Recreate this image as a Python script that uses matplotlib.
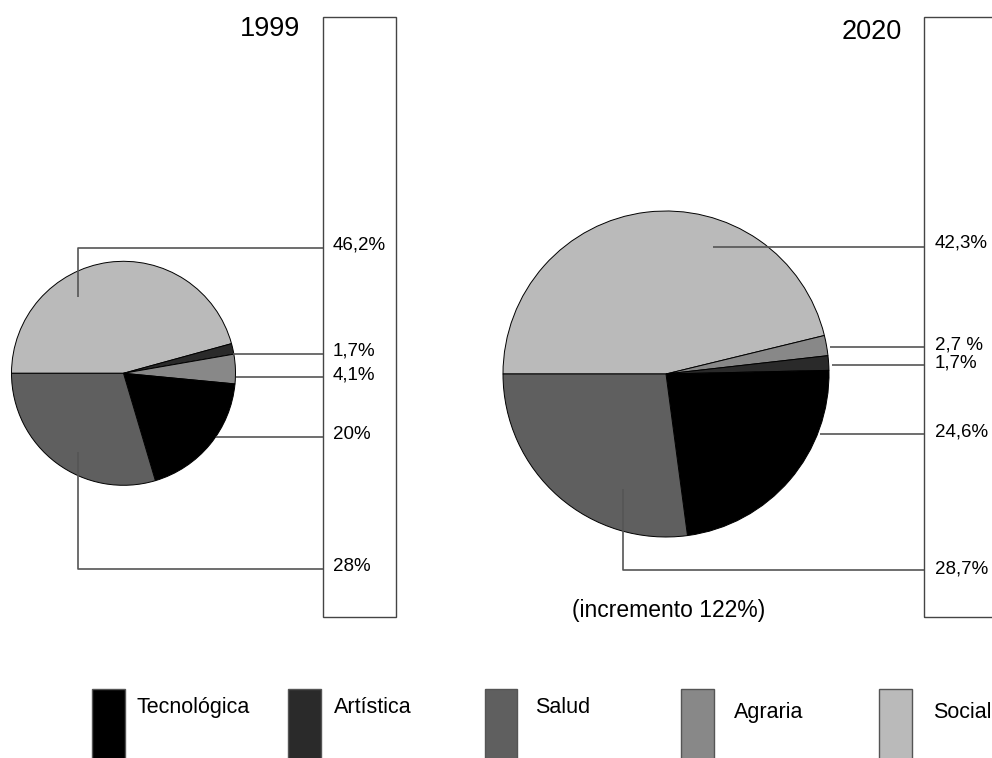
import matplotlib
matplotlib.use("Agg")
import matplotlib.pyplot as plt
from matplotlib.patches import Rectangle

plt.rcParams['font.family'] = ['Liberation Sans', 'DejaVu Sans']

W, H = 992, 758

# Legend categories and colours
categories = ['Tecnológica', 'Artística', 'Salud', 'Agraria', 'Social']
cat_colors = {'Tecnológica': '#000000', 'Artística': '#2a2a2a', 'Salud': '#5f5f5f',
              'Agraria': '#888888', 'Social': '#bababa'}

# 1999 pie (clockwise from 9 o'clock), wedge shares
order_1999 = ['Social', 'Artística', 'Agraria', 'Tecnológica', 'Salud']
shares_1999 = [45.75, 1.53, 4.25, 18.9, 29.6]
labels_1999 = ['46,2%', '1,7%', '4,1%', '20%', '28%']

# 2020 pie
order_2020 = ['Social', 'Agraria', 'Artística', 'Tecnológica', 'Salud']
shares_2020 = [46.2, 2.0, 1.44, 23.25, 27.1]
labels_2020 = ['42,3%', '2,7 %', '1,7%', '24,6%', '28,7%']

title_1999 = '1999'
title_2020 = '2020'
note_2020 = '(incremento 122%)'


def Y(y):
    return H - y


fig = plt.figure(figsize=(W / 100, H / 100), dpi=100)
ax = fig.add_axes([0, 0, 1, 1])

wp = dict(edgecolor='black', linewidth=0.7)
ax.pie(shares_1999, colors=[cat_colors[c] for c in order_1999], startangle=180,
       counterclock=False, center=(123.5, Y(373.3)), radius=112, frame=True,
       wedgeprops=wp)
ax.pie(shares_2020, colors=[cat_colors[c] for c in order_2020], startangle=180,
       counterclock=False, center=(666, Y(374)), radius=163, frame=True,
       wedgeprops=wp)

ax.set_xlim(0, W)
ax.set_ylim(0, H)
ax.set_aspect('equal')
ax.set_axis_off()

lc = '#555555'
llw = 1.2
boxc = '#444444'

# Boxes
ax.add_patch(Rectangle((323.3, Y(617)), 72.7, 617 - 16.7, fill=False, edgecolor=boxc, linewidth=1.0))
ax.add_patch(Rectangle((924, Y(617)), 100, 617 - 16.7, fill=False, edgecolor=boxc, linewidth=1.0,
                       clip_on=False))


def line(xs, ys):
    ax.plot(xs, [Y(v) for v in ys], color=lc, linewidth=llw, solid_capstyle='butt')


# 1999 leader lines
line([77.7, 77.7, 323.3], [297, 247.5, 247.5])
line([233, 323.3], [354, 354])
line([236, 323.3], [376.7, 376.7])
line([216, 323.3], [436.7, 436.7])
line([77.7, 77.7, 323.3], [452, 569, 569])

# 2020 leader lines
line([713, 924], [247, 247])
line([830, 924], [347.3, 347.3])
line([832, 924], [364.7, 364.7])
line([820, 924], [434, 434])
line([623, 623, 924], [489, 570, 570])

fs_lab = 13.5
base_1999 = [249, 355, 380, 439, 571]
for t, b in zip(labels_1999, base_1999):
    ax.text(333, Y(b), t, fontsize=fs_lab, ha='left', va='baseline')
base_2020 = [248, 350, 368, 436.7, 573]
for t, b in zip(labels_2020, base_2020):
    ax.text(935, Y(b), t, fontsize=fs_lab, ha='left', va='baseline')

ax.text(269.5, Y(36), title_1999, fontsize=19.5, ha='center', va='baseline')
ax.text(872, Y(39), title_2020, fontsize=19.5, ha='center', va='baseline')
ax.text(668.5, Y(616.7), note_2020, fontsize=16.5, ha='center', va='baseline')

# Legend
sq_x = [92.3, 288.3, 484.8, 681.4, 879.3]
txt_x = [136.7, 334, 534.7, 733.6, 933]
txt_base = [713.3, 713.3, 713.3, 718.3, 718.3]
for c, sx, tx, tb in zip(categories, sq_x, txt_x, txt_base):
    ax.add_patch(Rectangle((sx, Y(780)), 32.5, 780 - 688.5, facecolor=cat_colors[c],
                           edgecolor='#555555', linewidth=1.0))
    ax.text(tx, Y(tb), c, fontsize=15.5, ha='left', va='baseline')

fig.savefig('out.png', dpi=100)
